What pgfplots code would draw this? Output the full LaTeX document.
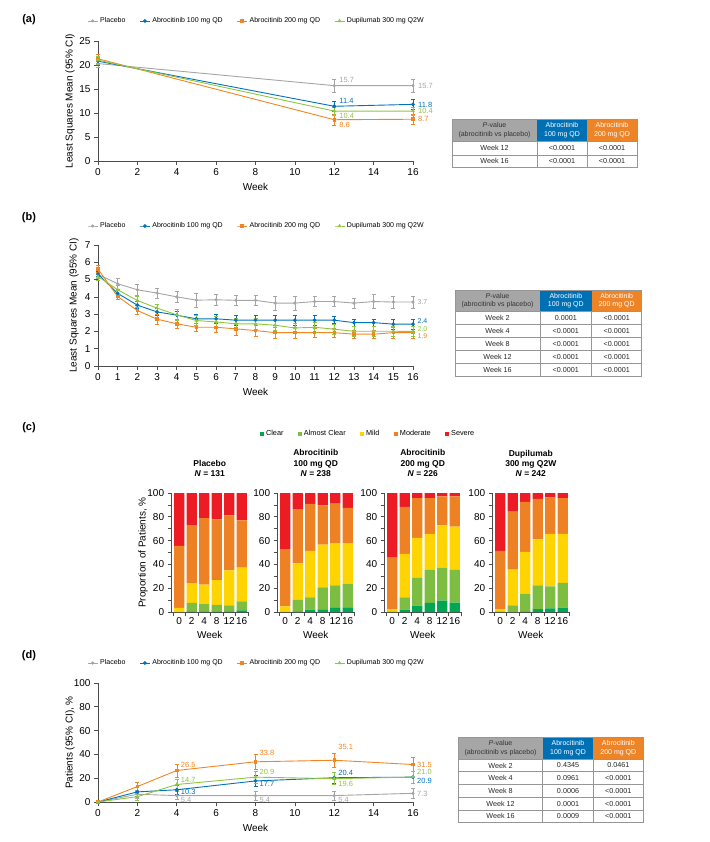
\documentclass[border=0pt]{standalone}
\usepackage{fontspec}
\setmainfont{Liberation Sans}
\usepackage{pgfplots}
\pgfplotsset{compat=1.18}
\usepackage{pgfplotstable}

\definecolor{cgrey}{RGB}{165,165,165}
\definecolor{cblue}{RGB}{0,114,188}
\definecolor{corange}{RGB}{242,133,34}
\definecolor{cgreen}{RGB}{141,198,63}
\definecolor{bclear}{RGB}{0,166,81}
\definecolor{bac}{RGB}{124,189,66}
\definecolor{bmild}{RGB}{255,212,0}
\definecolor{bmod}{RGB}{238,129,36}
\definecolor{bsev}{RGB}{237,28,36}
\definecolor{hgrey}{RGB}{166,166,166}
\definecolor{hblue}{RGB}{0,112,180}
\definecolor{horange}{RGB}{238,132,40}
\definecolor{tline}{RGB}{150,150,150}

\newcommand\fs[2]{\fontsize{#1pt}{#2pt}\selectfont}

% stacked bar data: index, Clear, AlmostClear, Mild, Moderate, Severe
\pgfplotstableread{
i C AC M Mod Sev
0 0   0   3.5  52.1 44.4
1 0.5 7.1 16.6 48.9 26.9
2 0.5 6.2 16.3 55.9 21.1
3 0.5 5.4 20.8 51.1 22.2
4 0.5 5.1 29.4 46.1 18.9
5 1.3 7.6 28.3 39.8 23.0
}\plac
\pgfplotstableread{
i C AC M Mod Sev
0 0   0.3  4.4  48.1 47.2
1 0.5 9.8  30.5 45.6 13.6
2 1.9 10.4 39.1 39.4 9.2
3 2.2 18.5 36.0 33.0 10.3
4 3.4 19.0 35.4 33.3 8.9
5 3.9 19.9 34.0 29.7 12.5
}\abrA
\pgfplotstableread{
i C AC M Mod Sev
0 0   0.5  2.0  43.1 54.4
1 1.9 10.4 36.6 39.4 11.7
2 5.3 23.3 33.6 33.6 4.2
3 7.6 27.9 30.1 30.2 4.2
4 9.5 27.7 35.6 24.4 2.8
5 7.8 27.7 36.2 25.5 2.8
}\abrB
\pgfplotstableread{
i C AC M Mod Sev
0 0   0.5  2.0  48.9 48.6
1 0   5.5  30.1 48.8 15.6
2 0.5 14.9 35.2 41.9 7.5
3 2.5 19.9 38.7 33.9 5.0
4 3.1 18.4 44.1 30.8 3.6
5 3.6 20.8 41.2 30.2 4.2
}\dupi

\pgfplotsset{
  base/.style={scale only axis, axis x line=bottom, axis y line=left,
    axis line style={-, draw=black!70, line width=0.7pt},
    tick align=outside, major tick length=4pt, minor tick length=4pt,
    tick style={draw=black!70, line width=0.7pt},
    tick label style={font=\fs{10}{12}, text=black},
    label style={font=\fs{10}{12}},
    /pgf/number format/assume math mode=true, clip=false},
  lineax/.style={base, width=315pt, xmin=0, xmax=16, xlabel={Week},
    legend columns=4,
    legend style={draw=none, fill=none, font=\fs{7}{8}, anchor=center,
      /tikz/every even column/.append style={column sep=12pt}},
    legend image code/.code={\draw[mark repeat=2,mark phase=2,##1] plot coordinates {(0pt,0pt) (5pt,0pt) (10pt,0pt)};},
    error bars/y dir=both, error bars/y explicit,
    error bars/error bar style={line width=0.5pt},
    error bars/error mark options={rotate=90, mark size=2pt, line width=0.5pt}},
  splac/.style={cgrey, line width=0.9pt, mark=*, mark size=1.1pt},
  sA/.style={cblue, line width=0.9pt, mark=*, mark size=1.4pt},
  sB/.style={corange, line width=0.9pt, mark=square*, mark size=1.3pt},
  sD/.style={cgreen, line width=0.9pt, mark=triangle*, mark size=1.4pt},
  barax/.style={base, width=76.25pt, height=119pt, ymin=0, ymax=100,
    xmin=-0.6, xmax=5.5, ybar stacked, bar width=10.3pt,
    ytick={0,20,...,100}, minor ytick={10,30,...,90},
    xtick={0,...,5}, xticklabels={0,2,4,8,12,16},
    major x tick style={draw=none}, minor xtick={-0.5,0.5,...,5.5},
    x tick label style={inner sep=1pt},
    xlabel={Week}, xlabel style={at={(axis description cs:0.5,-0.193)}, anchor=center},
    title style={at={(axis description cs:0.5,1)}, anchor=south, yshift=7pt, align=center, font=\bfseries\fs{8.5}{10.2}},
    legend image code/.code={\fill[##1] (0pt,-2.2pt) rectangle (4.4pt,2.2pt);}},
}

\newcommand\thead[6]{%
  \fill[hgrey] (#1pt,-#5pt) rectangle (#2pt,-#6pt);
  \fill[hblue] (#2pt,-#5pt) rectangle (#3pt,-#6pt);
  \fill[horange] (#3pt,-#5pt) rectangle (#4pt,-#6pt);
  \draw[tline, line width=0.6pt] (#1pt,-#5pt) rectangle (#4pt,-#6pt);
  \path (#1pt,-#5pt) -- (#2pt,-#6pt) node[midway, align=center, text=black!80, font=\fs{7}{8.5}] {\textit{P}-value\\(abrocitinib vs placebo)};
  \path (#2pt,-#5pt) -- (#3pt,-#6pt) node[midway, align=center, text=white, font=\fs{7}{8.5}] {Abrocitinib\\100 mg QD};
  \path (#3pt,-#5pt) -- (#4pt,-#6pt) node[midway, align=center, text=white, font=\fs{7}{8.5}] {Abrocitinib\\200 mg QD};
}
\newcommand\trow[9]{%
  \draw[tline, line width=0.6pt] (#1pt,-#5pt) rectangle (#2pt,-#6pt) (#2pt,-#5pt) rectangle (#3pt,-#6pt) (#3pt,-#5pt) rectangle (#4pt,-#6pt);
  \path (#1pt,-#5pt) -- (#2pt,-#6pt) node[midway, text=black!85, font=\fs{7.2}{8}] {#7};
  \path (#2pt,-#5pt) -- (#3pt,-#6pt) node[midway, text=black!85, font=\fs{7.2}{8}] {#8};
  \path (#3pt,-#5pt) -- (#4pt,-#6pt) node[midway, text=black!85, font=\fs{7.2}{8}] {#9};
}

\begin{document}
\begin{tikzpicture}
\path[use as bounding box] (0pt,0pt) rectangle (709pt,-842pt);

% ---------------- panel labels
\node[font=\bfseries\fs{11}{13}] at (29pt,-20pt) {(a)};
\node[font=\bfseries\fs{11}{13}] at (29pt,-218pt) {(b)};
\node[font=\bfseries\fs{11}{13}] at (29pt,-428pt) {(c)};
\node[font=\bfseries\fs{11}{13}] at (29pt,-656pt) {(d)};

% ---------------- (a)
\begin{axis}[lineax, at={(98pt,-161pt)}, anchor=south west, height=120pt,
  ymin=0, ymax=25, xtick={0,2,...,16}, ytick={0,5,...,25},
  ylabel={Least Squares Mean (95\% CI)},
  ylabel style={at={(axis description cs:-0.0889,0.5)}, anchor=center},
  xlabel style={at={(axis description cs:0.5,-0.2167)}, anchor=center},
  legend style={at={(axis description cs:0.503,1.167)}}]
\addplot[splac] coordinates {(0,20.3) +- (0,0.8) (12,15.7) +- (0,1.3) (16,15.7) +- (0,1.4)};
\addlegendentry{Placebo}
\addplot[sA] coordinates {(0,20.8) +- (0,0.8) (12,11.4) +- (0,1.0) (16,11.8) +- (0,1.0)};
\addlegendentry{Abrocitinib 100 mg QD}
\addplot[sB] coordinates {(0,21.3) +- (0,0.9) (12,8.6) +- (0,1.1) (16,8.7) +- (0,1.1)};
\addlegendentry{Abrocitinib 200 mg QD}
\addplot[sD] coordinates {(0,21.0) +- (0,0.8) (12,10.4) +- (0,0.9) (16,10.4) +- (0,0.9)};
\addlegendentry{Dupilumab 300 mg Q2W}
\begin{scope}[every node/.style={anchor=west, font=\fs{7.5}{9}, inner sep=1pt}]
\node[text=cgrey] at (axis cs:12.2,16.9) {15.7};
\node[text=cgrey] at (axis cs:16.2,15.7) {15.7};
\node[text=cblue] at (axis cs:12.2,12.5) {11.4};
\node[text=cblue] at (axis cs:16.2,11.75) {11.8};
\node[text=cgreen] at (axis cs:12.2,9.4) {10.4};
\node[text=cgreen] at (axis cs:16.2,10.4) {10.4};
\node[text=corange] at (axis cs:12.2,7.6) {8.6};
\node[text=corange] at (axis cs:16.2,8.75) {8.7};
\end{scope}
\end{axis}

\thead{452}{537}{587}{637}{119}{141.7}
\trow{452}{537}{587}{637}{141.7}{155}{Week 12}{<0.0001}{<0.0001}
\trow{452}{537}{587}{637}{155}{167.3}{Week 16}{<0.0001}{<0.0001}

% ---------------- (b)
\begin{axis}[lineax, at={(98pt,-366pt)}, anchor=south west, height=121pt,
  ymin=0, ymax=7, xtick={0,...,16}, ytick={0,...,7},
  ylabel={Least Squares Mean (95\% CI)},
  ylabel style={at={(axis description cs:-0.076,0.5)}, anchor=center},
  xlabel style={at={(axis description cs:0.5,-0.215)}, anchor=center},
  legend style={at={(axis description cs:0.503,1.157)}}]
\addplot[splac] coordinates {(0,5.3)+-(0,0.2) (1,4.76)+-(0,0.3) (2,4.41)+-(0,0.3) (3,4.22)+-(0,0.3) (4,4.0)+-(0,0.3) (5,3.81)+-(0,0.4) (6,3.83)+-(0,0.3) (7,3.8)+-(0,0.3) (8,3.8)+-(0,0.3) (9,3.64)+-(0,0.4) (10,3.64)+-(0,0.4) (11,3.73)+-(0,0.3) (12,3.73)+-(0,0.3) (13,3.64)+-(0,0.3) (14,3.73)+-(0,0.4) (15,3.7)+-(0,0.35) (16,3.7)+-(0,0.35)};
\addlegendentry{Placebo}
\addplot[sA] coordinates {(0,5.32)+-(0,0.15) (1,4.2)+-(0,0.2) (2,3.52)+-(0,0.2) (3,3.13)+-(0,0.2) (4,2.94)+-(0,0.25) (5,2.73)+-(0,0.25) (6,2.73)+-(0,0.25) (7,2.65)+-(0,0.3) (8,2.65)+-(0,0.3) (9,2.65)+-(0,0.3) (10,2.65)+-(0,0.3) (11,2.65)+-(0,0.3) (12,2.65)+-(0,0.2) (13,2.51)+-(0,0.2) (14,2.51)+-(0,0.2) (15,2.42)+-(0,0.3) (16,2.42)+-(0,0.3)};
\addlegendentry{Abrocitinib 100 mg QD}
\addplot[sB] coordinates {(0,5.6)+-(0,0.2) (1,4.02)+-(0,0.15) (2,3.21)+-(0,0.2) (3,2.71)+-(0,0.3) (4,2.44)+-(0,0.25) (5,2.24)+-(0,0.25) (6,2.24)+-(0,0.3) (7,2.15)+-(0,0.35) (8,2.05)+-(0,0.3) (9,1.93)+-(0,0.3) (10,1.93)+-(0,0.3) (11,1.93)+-(0,0.25) (12,1.93)+-(0,0.25) (13,1.84)+-(0,0.25) (14,1.84)+-(0,0.25) (15,1.93)+-(0,0.3) (16,1.93)+-(0,0.35)};
\addlegendentry{Abrocitinib 200 mg QD}
\addplot[sD] coordinates {(0,5.18)+-(0,0.2) (1,4.41)+-(0,0.25) (2,3.79)+-(0,0.25) (3,3.35)+-(0,0.25) (4,2.96)+-(0,0.3) (5,2.63)+-(0,0.3) (6,2.55)+-(0,0.3) (7,2.44)+-(0,0.3) (8,2.44)+-(0,0.3) (9,2.36)+-(0,0.3) (10,2.2)+-(0,0.3) (11,2.24)+-(0,0.3) (12,2.13)+-(0,0.3) (13,2.01)+-(0,0.3) (14,2.01)+-(0,0.3) (15,2.01)+-(0,0.3) (16,2.0)+-(0,0.3)};
\addlegendentry{Dupilumab 300 mg Q2W}
\begin{scope}[every node/.style={anchor=west, font=\fs{7}{8}, inner sep=0.5pt}]
\node[text=cgrey] at (axis cs:16.2,3.68) {3.7};
\node[text=cblue] at (axis cs:16.2,2.58) {2.4};
\node[text=cgreen] at (axis cs:16.2,2.16) {2.0};
\node[text=corange] at (axis cs:16.2,1.74) {1.9};
\end{scope}
\end{axis}

\thead{455}{540}{591.7}{641.7}{290}{311.7}
\trow{455}{540}{591.7}{641.7}{311.7}{324.3}{Week 2}{0.0001}{<0.0001}
\trow{455}{540}{591.7}{641.7}{324.3}{337.3}{Week 4}{<0.0001}{<0.0001}
\trow{455}{540}{591.7}{641.7}{337.3}{350.3}{Week 8}{<0.0001}{<0.0001}
\trow{455}{540}{591.7}{641.7}{350.3}{363.3}{Week 12}{<0.0001}{<0.0001}
\trow{455}{540}{591.7}{641.7}{363.3}{376}{Week 16}{<0.0001}{<0.0001}

% ---------------- (c)
\begin{axis}[barax, at={(171.65pt,-612pt)}, anchor=south west,
  title={Placebo\\\textit{N} = 131},
  ylabel={Proportion of Patients, \%},
  ylabel style={at={(axis description cs:-0.376,0.5)}, anchor=center},
  legend columns=5,
  legend style={draw=none, fill=none, font=\fs{7.3}{8.5}, at={(axis description cs:2.575,1.496)}, anchor=center,
    /tikz/every even column/.append style={column sep=12pt}}]
\addplot[fill=bclear, draw=none] table[x=i, y=C]{\plac};
\addlegendentry{Clear}
\addplot[fill=bac, draw=none] table[x=i, y=AC]{\plac};
\addlegendentry{Almost Clear}
\addplot[fill=bmild, draw=none] table[x=i, y=M]{\plac};
\addlegendentry{Mild}
\addplot[fill=bmod, draw=none] table[x=i, y=Mod]{\plac};
\addlegendentry{Moderate}
\addplot[fill=bsev, draw=none] table[x=i, y=Sev]{\plac};
\addlegendentry{Severe}
\end{axis}

\begin{axis}[barax, at={(277.65pt,-612pt)}, anchor=south west,
  title={Abrocitinib\\100 mg QD\\\textit{N} = 238}]
\addplot[fill=bclear, draw=none] table[x=i, y=C]{\abrA};
\addplot[fill=bac, draw=none] table[x=i, y=AC]{\abrA};
\addplot[fill=bmild, draw=none] table[x=i, y=M]{\abrA};
\addplot[fill=bmod, draw=none] table[x=i, y=Mod]{\abrA};
\addplot[fill=bsev, draw=none] table[x=i, y=Sev]{\abrA};
\end{axis}

\begin{axis}[barax, at={(384.65pt,-612pt)}, anchor=south west,
  title={Abrocitinib\\200 mg QD\\\textit{N} = 226}]
\addplot[fill=bclear, draw=none] table[x=i, y=C]{\abrB};
\addplot[fill=bac, draw=none] table[x=i, y=AC]{\abrB};
\addplot[fill=bmild, draw=none] table[x=i, y=M]{\abrB};
\addplot[fill=bmod, draw=none] table[x=i, y=Mod]{\abrB};
\addplot[fill=bsev, draw=none] table[x=i, y=Sev]{\abrB};
\end{axis}

\begin{axis}[barax, at={(492.65pt,-612pt)}, anchor=south west,
  title={Dupilumab\\300 mg Q2W\\\textit{N} = 242}]
\addplot[fill=bclear, draw=none] table[x=i, y=C]{\dupi};
\addplot[fill=bac, draw=none] table[x=i, y=AC]{\dupi};
\addplot[fill=bmild, draw=none] table[x=i, y=M]{\dupi};
\addplot[fill=bmod, draw=none] table[x=i, y=Mod]{\dupi};
\addplot[fill=bsev, draw=none] table[x=i, y=Sev]{\dupi};
\end{axis}

% ---------------- (d)
\begin{axis}[lineax, at={(98pt,-802pt)}, anchor=south west, height=119pt,
  ymin=0, ymax=100, xtick={0,2,...,16}, ytick={0,20,...,100},
  ylabel={Patients (95\% CI), \%},
  ylabel style={at={(axis description cs:-0.089,0.5)}, anchor=center},
  xlabel style={at={(axis description cs:0.5,-0.2185)}, anchor=center},
  legend style={at={(axis description cs:0.503,1.168)}}]
\addplot[splac] coordinates {(0,0)+-(0,0) (2,6.5)+-(0,3.5) (4,5.4)+-(0,3.5) (8,5.4)+-(0,3.8) (12,5.4)+-(0,3.8) (16,7.3)+-(0,4.3)};
\addlegendentry{Placebo}
\addplot[sA] coordinates {(0,0)+-(0,0) (2,8.5)+-(0,3.5) (4,10.3)+-(0,4) (8,17.7)+-(0,4.8) (12,20.4)+-(0,5) (16,20.9)+-(0,5.2)};
\addlegendentry{Abrocitinib 100 mg QD}
\addplot[sB] coordinates {(0,0)+-(0,0) (2,13)+-(0,4) (4,26.5)+-(0,5.5) (8,33.8)+-(0,6) (12,35.1)+-(0,6.2) (16,31.5)+-(0,6)};
\addlegendentry{Abrocitinib 200 mg QD}
\addplot[sD] coordinates {(0,0)+-(0,0) (2,4.5)+-(0,3) (4,14.7)+-(0,4.5) (8,20.9)+-(0,5) (12,19.6)+-(0,5) (16,21.0)+-(0,5)};
\addlegendentry{Dupilumab 300 mg Q2W}
\begin{scope}[every node/.style={anchor=west, font=\fs{7.5}{9}, inner sep=1pt}]
\node[text=corange] at (axis cs:4.15,31.2) {26.5};
\node[text=corange] at (axis cs:8.15,41.2) {33.8};
\node[text=corange] at (axis cs:12.15,46.5) {35.1};
\node[text=corange] at (axis cs:16.15,31.2) {31.5};
\node[text=cgreen] at (axis cs:4.15,18.7) {14.7};
\node[text=cgreen] at (axis cs:8.15,25) {20.9};
\node[text=cgreen] at (axis cs:12.15,15) {19.6};
\node[text=cgreen] at (axis cs:16.15,25) {21.0};
\node[text=cblue] at (axis cs:4.15,8.1) {10.3};
\node[text=cblue] at (axis cs:8.15,15.3) {17.7};
\node[text=cblue] at (axis cs:12.15,24.8) {20.4};
\node[text=cblue] at (axis cs:16.15,18.1) {20.9};
\node[text=cgrey] at (axis cs:4.15,2) {5.4};
\node[text=cgrey] at (axis cs:8.15,2) {5.4};
\node[text=cgrey] at (axis cs:12.15,2) {5.4};
\node[text=cgrey] at (axis cs:16.15,7) {7.3};
\end{scope}
\end{axis}

\thead{458.3}{542.7}{593.3}{643.3}{737.3}{759.3}
\trow{458.3}{542.7}{593.3}{643.3}{759.3}{771.7}{Week 2}{0.4345}{0.0461}
\trow{458.3}{542.7}{593.3}{643.3}{771.7}{784.3}{Week 4}{0.0961}{<0.0001}
\trow{458.3}{542.7}{593.3}{643.3}{784.3}{797.3}{Week 8}{0.0006}{<0.0001}
\trow{458.3}{542.7}{593.3}{643.3}{797.3}{810}{Week 12}{0.0001}{<0.0001}
\trow{458.3}{542.7}{593.3}{643.3}{810}{822.7}{Week 16}{0.0009}{<0.0001}

\end{tikzpicture}
\end{document}
